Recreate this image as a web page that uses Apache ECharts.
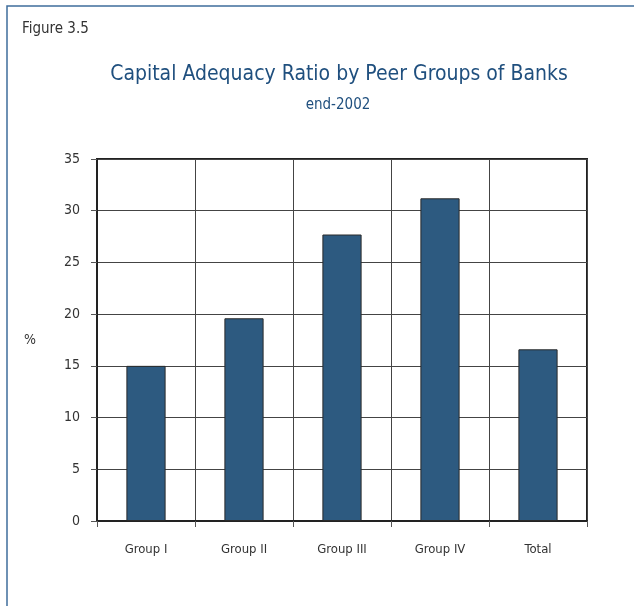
<!DOCTYPE html>
<html>
<head>
<meta charset="utf-8">
<script src="https://cdn.jsdelivr.net/npm/echarts@6/dist/echarts.min.js"></script>
<style>
  html, body { margin: 0; padding: 0; background: #fff; }
  #chart { width: 634px; height: 606px; }
</style>
</head>
<body>
<div id="chart"></div>
<script>
// Capital adequacy ratio (%) by peer group, end-2002
const categories = ['Group I', 'Group II', 'Group III', 'Group IV', 'Total'];
const ratios = [15.0, 19.6, 27.7, 31.2, 16.6];
const yTicks = [0, 5, 10, 15, 20, 25, 30, 35];

const FONT = "'Liberation Sans Narrow', 'DejaVu Sans Condensed', sans-serif";
const BLUE = '#1f4f7e';

const chart = echarts.init(document.getElementById('chart'), null, { renderer: 'canvas' });

chart.setOption({
  animation: false,
  backgroundColor: '#ffffff',
  title: [
    {
      text: 'Figure 3.5',
      left: 22, top: 22, padding: 0,
      textStyle: { fontFamily: FONT, fontSize: 15, fontWeight: 'normal', color: '#333' }
    },
    {
      text: 'Capital Adequacy Ratio by Peer Groups of Banks',
      left: 339, top: 64, padding: 0, textAlign: 'center',
      textStyle: { fontFamily: FONT, fontSize: 21, fontWeight: 'normal', color: BLUE }
    },
    {
      text: 'end-2002',
      left: 338, top: 98, padding: 0, textAlign: 'center',
      textStyle: { fontFamily: FONT, fontSize: 15, fontWeight: 'normal', color: BLUE }
    },
    {
      text: '%',
      left: 24, top: 333, padding: 0,
      textStyle: { fontFamily: FONT, fontSize: 14, fontWeight: 'normal', color: '#333' }
    }
  ],
  graphic: [
    {
      type: 'polyline',
      shape: { points: [[7, 606], [7, 6], [634, 6]] },
      style: { stroke: '#3f6d9c', lineWidth: 1.5, fill: null },
      silent: true
    }
  ],
  grid: {
    left: 97, right: 47, top: 159, bottom: 85,
    show: true, borderColor: '#222', borderWidth: 2, backgroundColor: 'transparent'
  },
  xAxis: {
    type: 'category',
    data: categories,
    axisLine: { show: true, lineStyle: { color: '#222', width: 2 } },
    axisTick: { show: true, length: 6, lineStyle: { color: '#555', width: 1 } },
    splitLine: { show: true, lineStyle: { color: '#444', width: 1 } },
    axisLabel: { margin: 22, fontFamily: FONT, fontSize: 13, color: '#333' }
  },
  yAxis: {
    type: 'value',
    min: yTicks[0], max: yTicks[yTicks.length - 1], interval: 5,
    axisLine: { show: true, lineStyle: { color: '#222', width: 2 } },
    axisTick: { show: true, length: 6, lineStyle: { color: '#555', width: 1 } },
    splitLine: { show: true, lineStyle: { color: '#444', width: 1 } },
    axisLabel: { margin: 17, fontFamily: FONT, fontSize: 14, color: '#333' }
  },
  series: [
    {
      type: 'bar',
      data: ratios,
      barWidth: '40%',
      itemStyle: { color: '#2d5a80', borderColor: '#2a2a2a', borderWidth: 1 }
    }
  ]
});
</script>
</body>
</html>
